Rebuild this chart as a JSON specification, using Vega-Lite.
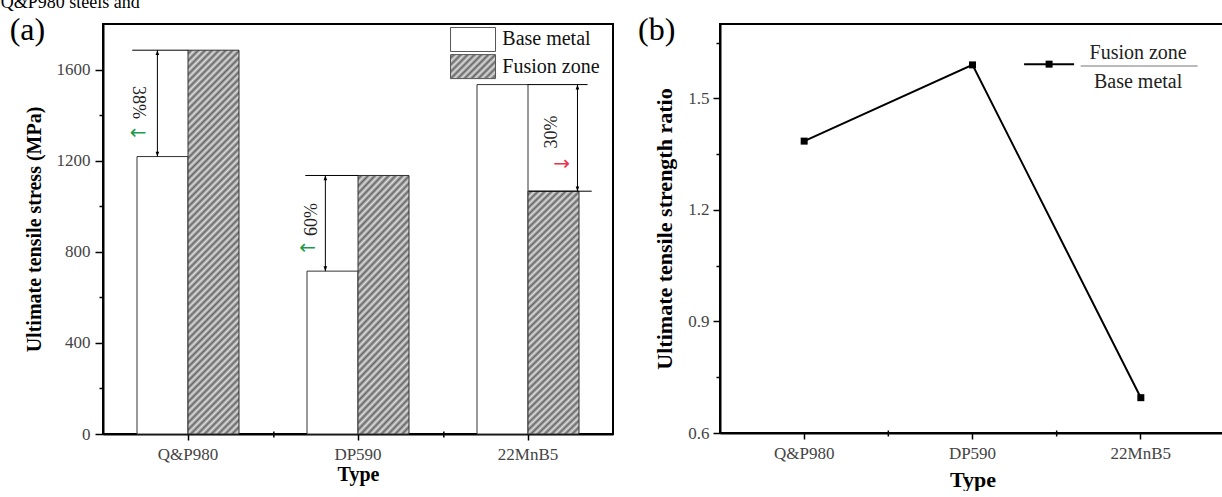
{
  "$schema": "https://vega.github.io/schema/vega-lite/v6.json",
  "background": "white",
  "padding": {"left": 0, "top": -7, "right": 0, "bottom": 0},
  "title": {"text": "Q&P980  steels and", "anchor": "start", "frame": "bounds", "dx": -8, "offset": -13, "baseline": "alphabetic", "fontSize": 18, "font": "Liberation Serif", "fontWeight": "normal", "color": "#000"},
  "datasets": {
    "bars": [
      {"Type": "Q&P980", "Condition": "Base metal", "UTS": 1218},
      {"Type": "Q&P980", "Condition": "Fusion zone", "UTS": 1685},
      {"Type": "DP590", "Condition": "Base metal", "UTS": 715},
      {"Type": "DP590", "Condition": "Fusion zone", "UTS": 1135},
      {"Type": "22MnB5", "Condition": "Base metal", "UTS": 1534},
      {"Type": "22MnB5", "Condition": "Fusion zone", "UTS": 1066}
    ],
    "ann": [
      {"Type": "Q&P980", "top": 1685, "bottom": 1218, "label": "38%", "labelAt": 1455, "arrowAt": 1323},
      {"Type": "DP590", "top": 1135, "bottom": 715, "label": "60%", "labelAt": 942, "arrowAt": 818},
      {"Type": "22MnB5", "top": 1534, "bottom": 1066, "label": "30%", "labelAt": 1326, "arrowAt": 1187}
    ],
    "ratio": [
      {"Type": "Q&P980", "Ratio": 1.385},
      {"Type": "DP590", "Ratio": 1.59},
      {"Type": "22MnB5", "Ratio": 0.695}
    ],
    "between": [
      {"Type": "DP590"},
      {"Type": "22MnB5"}
    ]
  },
  "spacing": 23,
  "hconcat": [
    {
      "width": 510,
      "height": 410,
      "layer": [
        {
          "data": {"name": "bars"},
          "mark": {"type": "bar", "stroke": "#333", "strokeWidth": 1},
          "encoding": {
            "x": {"field": "Type", "type": "nominal", "title": "Type",
                  "scale": {"type": "band", "domain": ["Q&P980", "DP590", "22MnB5"], "paddingInner": 0.4, "paddingOuter": 0.2},
                  "axis": {"labelAngle": 0, "tickSize": 6, "labelPadding": 6, "titlePadding": 2}},
            "xOffset": {"field": "Condition", "type": "nominal", "scale": {"domain": ["Base metal", "Fusion zone"]}},
            "y": {"field": "UTS", "type": "quantitative", "title": "Ultimate tensile stress (MPa)",
                  "scale": {"domain": [0, 1800], "nice": false},
                  "axis": {"values": [0, 200, 400, 600, 800, 1000, 1200, 1400, 1600],
                           "labelExpr": "datum.value % 400 === 0 ? format(datum.value, 'd') : ''",
                           "tickSize": {"condition": {"test": "datum.value % 400 !== 0", "value": 4}, "value": 8},
                           "labelPadding": 5, "titlePadding": 12}},
            "fill": {"field": "Condition", "type": "nominal", "legend": null,
                     "scale": {"domain": ["Base metal", "Fusion zone"], "range": ["#ffffff", "#a6a6a6"]},
                     "condition": [
                       {"test": "datum.Condition === 'Fusion zone' && datum.Type === 'Q&P980'",
                        "value": {"gradient": "linear", "x1": 0, "y1": 0, "x2": 0.1495, "y2": 1.1141, "stops": [
{"offset":0,"color":"#ddd"},{"offset":0.008,"color":"#666"},{"offset":0.016,"color":"#ddd"},{"offset":0.024,"color":"#666"},{"offset":0.032,"color":"#ddd"},{"offset":0.04,"color":"#666"},{"offset":0.048,"color":"#ddd"},{"offset":0.056,"color":"#666"},{"offset":0.064,"color":"#ddd"},{"offset":0.072,"color":"#666"},
{"offset":0.08,"color":"#ddd"},{"offset":0.088,"color":"#666"},{"offset":0.096,"color":"#ddd"},{"offset":0.104,"color":"#666"},{"offset":0.112,"color":"#ddd"},{"offset":0.12,"color":"#666"},{"offset":0.128,"color":"#ddd"},{"offset":0.136,"color":"#666"},{"offset":0.144,"color":"#ddd"},{"offset":0.152,"color":"#666"},
{"offset":0.16,"color":"#ddd"},{"offset":0.168,"color":"#666"},{"offset":0.176,"color":"#ddd"},{"offset":0.184,"color":"#666"},{"offset":0.192,"color":"#ddd"},{"offset":0.2,"color":"#666"},{"offset":0.208,"color":"#ddd"},{"offset":0.216,"color":"#666"},{"offset":0.224,"color":"#ddd"},{"offset":0.232,"color":"#666"},
{"offset":0.24,"color":"#ddd"},{"offset":0.248,"color":"#666"},{"offset":0.256,"color":"#ddd"},{"offset":0.264,"color":"#666"},{"offset":0.272,"color":"#ddd"},{"offset":0.28,"color":"#666"},{"offset":0.288,"color":"#ddd"},{"offset":0.296,"color":"#666"},{"offset":0.304,"color":"#ddd"},{"offset":0.312,"color":"#666"},
{"offset":0.32,"color":"#ddd"},{"offset":0.328,"color":"#666"},{"offset":0.336,"color":"#ddd"},{"offset":0.344,"color":"#666"},{"offset":0.352,"color":"#ddd"},{"offset":0.36,"color":"#666"},{"offset":0.368,"color":"#ddd"},{"offset":0.376,"color":"#666"},{"offset":0.384,"color":"#ddd"},{"offset":0.392,"color":"#666"},
{"offset":0.4,"color":"#ddd"},{"offset":0.408,"color":"#666"},{"offset":0.416,"color":"#ddd"},{"offset":0.424,"color":"#666"},{"offset":0.432,"color":"#ddd"},{"offset":0.44,"color":"#666"},{"offset":0.448,"color":"#ddd"},{"offset":0.456,"color":"#666"},{"offset":0.464,"color":"#ddd"},{"offset":0.472,"color":"#666"},
{"offset":0.48,"color":"#ddd"},{"offset":0.488,"color":"#666"},{"offset":0.496,"color":"#ddd"},{"offset":0.504,"color":"#666"},{"offset":0.512,"color":"#ddd"},{"offset":0.52,"color":"#666"},{"offset":0.528,"color":"#ddd"},{"offset":0.536,"color":"#666"},{"offset":0.544,"color":"#ddd"},{"offset":0.552,"color":"#666"},
{"offset":0.56,"color":"#ddd"},{"offset":0.568,"color":"#666"},{"offset":0.576,"color":"#ddd"},{"offset":0.584,"color":"#666"},{"offset":0.592,"color":"#ddd"},{"offset":0.6,"color":"#666"},{"offset":0.608,"color":"#ddd"},{"offset":0.616,"color":"#666"},{"offset":0.624,"color":"#ddd"},{"offset":0.632,"color":"#666"},
{"offset":0.64,"color":"#ddd"},{"offset":0.648,"color":"#666"},{"offset":0.656,"color":"#ddd"},{"offset":0.664,"color":"#666"},{"offset":0.672,"color":"#ddd"},{"offset":0.68,"color":"#666"},{"offset":0.688,"color":"#ddd"},{"offset":0.696,"color":"#666"},{"offset":0.704,"color":"#ddd"},{"offset":0.712,"color":"#666"},
{"offset":0.72,"color":"#ddd"},{"offset":0.728,"color":"#666"},{"offset":0.736,"color":"#ddd"},{"offset":0.744,"color":"#666"},{"offset":0.752,"color":"#ddd"},{"offset":0.76,"color":"#666"},{"offset":0.768,"color":"#ddd"},{"offset":0.776,"color":"#666"},{"offset":0.784,"color":"#ddd"},{"offset":0.792,"color":"#666"},
{"offset":0.8,"color":"#ddd"},{"offset":0.808,"color":"#666"},{"offset":0.816,"color":"#ddd"},{"offset":0.824,"color":"#666"},{"offset":0.832,"color":"#ddd"},{"offset":0.84,"color":"#666"},{"offset":0.848,"color":"#ddd"},{"offset":0.856,"color":"#666"},{"offset":0.864,"color":"#ddd"},{"offset":0.872,"color":"#666"},
{"offset":0.88,"color":"#ddd"},{"offset":0.888,"color":"#666"},{"offset":0.896,"color":"#ddd"},{"offset":0.904,"color":"#666"},{"offset":0.912,"color":"#ddd"},{"offset":0.92,"color":"#666"},{"offset":0.928,"color":"#ddd"},{"offset":0.936,"color":"#666"},{"offset":0.944,"color":"#ddd"},{"offset":0.952,"color":"#666"},
{"offset":0.96,"color":"#ddd"},{"offset":0.968,"color":"#666"},{"offset":0.976,"color":"#ddd"},{"offset":0.984,"color":"#666"},{"offset":0.992,"color":"#ddd"},{"offset":1,"color":"#666"}
                        ]}},
                       {"test": "datum.Condition === 'Fusion zone'",
                        "value": {"gradient": "linear", "x1": 0, "y1": 0, "x2": 0.2733, "y2": 1.3295, "stops": [
{"offset":0,"color":"#ddd"},{"offset":0.01,"color":"#666"},{"offset":0.02,"color":"#ddd"},{"offset":0.03,"color":"#666"},{"offset":0.04,"color":"#ddd"},{"offset":0.05,"color":"#666"},{"offset":0.06,"color":"#ddd"},{"offset":0.07,"color":"#666"},{"offset":0.08,"color":"#ddd"},{"offset":0.09,"color":"#666"},
{"offset":0.1,"color":"#ddd"},{"offset":0.11,"color":"#666"},{"offset":0.12,"color":"#ddd"},{"offset":0.13,"color":"#666"},{"offset":0.14,"color":"#ddd"},{"offset":0.15,"color":"#666"},{"offset":0.16,"color":"#ddd"},{"offset":0.17,"color":"#666"},{"offset":0.18,"color":"#ddd"},{"offset":0.19,"color":"#666"},
{"offset":0.2,"color":"#ddd"},{"offset":0.21,"color":"#666"},{"offset":0.22,"color":"#ddd"},{"offset":0.23,"color":"#666"},{"offset":0.24,"color":"#ddd"},{"offset":0.25,"color":"#666"},{"offset":0.26,"color":"#ddd"},{"offset":0.27,"color":"#666"},{"offset":0.28,"color":"#ddd"},{"offset":0.29,"color":"#666"},
{"offset":0.3,"color":"#ddd"},{"offset":0.31,"color":"#666"},{"offset":0.32,"color":"#ddd"},{"offset":0.33,"color":"#666"},{"offset":0.34,"color":"#ddd"},{"offset":0.35,"color":"#666"},{"offset":0.36,"color":"#ddd"},{"offset":0.37,"color":"#666"},{"offset":0.38,"color":"#ddd"},{"offset":0.39,"color":"#666"},
{"offset":0.4,"color":"#ddd"},{"offset":0.41,"color":"#666"},{"offset":0.42,"color":"#ddd"},{"offset":0.43,"color":"#666"},{"offset":0.44,"color":"#ddd"},{"offset":0.45,"color":"#666"},{"offset":0.46,"color":"#ddd"},{"offset":0.47,"color":"#666"},{"offset":0.48,"color":"#ddd"},{"offset":0.49,"color":"#666"},
{"offset":0.5,"color":"#ddd"},{"offset":0.51,"color":"#666"},{"offset":0.52,"color":"#ddd"},{"offset":0.53,"color":"#666"},{"offset":0.54,"color":"#ddd"},{"offset":0.55,"color":"#666"},{"offset":0.56,"color":"#ddd"},{"offset":0.57,"color":"#666"},{"offset":0.58,"color":"#ddd"},{"offset":0.59,"color":"#666"},
{"offset":0.6,"color":"#ddd"},{"offset":0.61,"color":"#666"},{"offset":0.62,"color":"#ddd"},{"offset":0.63,"color":"#666"},{"offset":0.64,"color":"#ddd"},{"offset":0.65,"color":"#666"},{"offset":0.66,"color":"#ddd"},{"offset":0.67,"color":"#666"},{"offset":0.68,"color":"#ddd"},{"offset":0.69,"color":"#666"},
{"offset":0.7,"color":"#ddd"},{"offset":0.71,"color":"#666"},{"offset":0.72,"color":"#ddd"},{"offset":0.73,"color":"#666"},{"offset":0.74,"color":"#ddd"},{"offset":0.75,"color":"#666"},{"offset":0.76,"color":"#ddd"},{"offset":0.77,"color":"#666"},{"offset":0.78,"color":"#ddd"},{"offset":0.79,"color":"#666"},
{"offset":0.8,"color":"#ddd"},{"offset":0.81,"color":"#666"},{"offset":0.82,"color":"#ddd"},{"offset":0.83,"color":"#666"},{"offset":0.84,"color":"#ddd"},{"offset":0.85,"color":"#666"},{"offset":0.86,"color":"#ddd"},{"offset":0.87,"color":"#666"},{"offset":0.88,"color":"#ddd"},{"offset":0.89,"color":"#666"},
{"offset":0.9,"color":"#ddd"},{"offset":0.91,"color":"#666"},{"offset":0.92,"color":"#ddd"},{"offset":0.93,"color":"#666"},{"offset":0.94,"color":"#ddd"},{"offset":0.95,"color":"#666"},{"offset":0.96,"color":"#ddd"},{"offset":0.97,"color":"#666"},{"offset":0.98,"color":"#ddd"},{"offset":0.99,"color":"#666"},
{"offset":1,"color":"#ddd"}
                        ]}}
                     ]}
          }
        },
        {
          "data": {"values": [{"Condition": "Base metal"}]},
          "mark": {"type": "point", "shape": "M-1.875,-1H1.875V1H-1.875Z", "size": 576, "filled": true, "fill": "#ffffff", "stroke": "#555", "strokeWidth": 1, "opacity": 1},
          "encoding": {
            "x": {"datum": "22MnB5", "type": "nominal", "bandPosition": -0.039, "title": "Type", "scale": {"type": "band", "domain": ["Q&P980", "DP590", "22MnB5"], "paddingInner": 0.4, "paddingOuter": 0.2}},
            "y": {"datum": 1732, "type": "quantitative", "title": "Ultimate tensile stress (MPa)", "scale": {"domain": [0, 1800], "nice": false}}
          }
        },
        {
          "data": {"values": [{"Condition": "Fusion zone"}]},
          "mark": {"type": "point", "shape": "M-1.875,-1H1.875V1H-1.875Z", "size": 576, "filled": true, "stroke": "#555", "strokeWidth": 1, "opacity": 1,
                   "fill": {"gradient": "linear", "x1": 0, "y1": 0, "x2": 1.1938, "y2": 0.6367, "stops": [
{"offset":0,"color":"#ddd"},{"offset":0.05,"color":"#666"},{"offset":0.1,"color":"#ddd"},{"offset":0.15,"color":"#666"},{"offset":0.2,"color":"#ddd"},{"offset":0.25,"color":"#666"},{"offset":0.3,"color":"#ddd"},{"offset":0.35,"color":"#666"},{"offset":0.4,"color":"#ddd"},{"offset":0.45,"color":"#666"},
{"offset":0.5,"color":"#ddd"},{"offset":0.55,"color":"#666"},{"offset":0.6,"color":"#ddd"},{"offset":0.65,"color":"#666"},{"offset":0.7,"color":"#ddd"},{"offset":0.75,"color":"#666"},{"offset":0.8,"color":"#ddd"},{"offset":0.85,"color":"#666"},{"offset":0.9,"color":"#ddd"},{"offset":0.95,"color":"#666"},
{"offset":1,"color":"#ddd"}
                   ]}},
          "encoding": {
            "x": {"datum": "22MnB5", "type": "nominal", "bandPosition": -0.039, "title": "Type", "scale": {"type": "band", "domain": ["Q&P980", "DP590", "22MnB5"], "paddingInner": 0.4, "paddingOuter": 0.2}},
            "y": {"datum": 1613, "type": "quantitative", "title": "Ultimate tensile stress (MPa)", "scale": {"domain": [0, 1800], "nice": false}}
          }
        },
        {
          "data": {"values": [{"Condition": "Base metal"}]},
          "mark": {"type": "text", "align": "left", "baseline": "middle", "fontSize": 20, "font": "Liberation Serif", "color": "#111"},
          "encoding": {
            "x": {"datum": "22MnB5", "type": "nominal", "bandPosition": 0.248, "title": "Type", "scale": {"type": "band", "domain": ["Q&P980", "DP590", "22MnB5"], "paddingInner": 0.4, "paddingOuter": 0.2}},
            "y": {"datum": 1732, "type": "quantitative", "title": "Ultimate tensile stress (MPa)", "scale": {"domain": [0, 1800], "nice": false}},
            "text": {"field": "Condition"}
          }
        },
        {
          "data": {"values": [{"Condition": "Fusion zone"}]},
          "mark": {"type": "text", "align": "left", "baseline": "middle", "fontSize": 20, "font": "Liberation Serif", "color": "#111"},
          "encoding": {
            "x": {"datum": "22MnB5", "type": "nominal", "bandPosition": 0.248, "title": "Type", "scale": {"type": "band", "domain": ["Q&P980", "DP590", "22MnB5"], "paddingInner": 0.4, "paddingOuter": 0.2}},
            "y": {"datum": 1613, "type": "quantitative", "title": "Ultimate tensile stress (MPa)", "scale": {"domain": [0, 1800], "nice": false}},
            "text": {"field": "Condition"}
          }
        },
        {
          "data": {"name": "between"},
          "mark": {"type": "point", "shape": "M0,-1V1.4", "filled": false, "color": "#000", "strokeWidth": 1.5, "size": 25, "opacity": 1},
          "encoding": {
            "x": {"field": "Type", "type": "nominal", "bandPosition": -0.325, "title": "Type", "scale": {"type": "band", "domain": ["Q&P980", "DP590", "22MnB5"], "paddingInner": 0.4, "paddingOuter": 0.2}},
            "y": {"datum": 0, "type": "quantitative", "title": "Ultimate tensile stress (MPa)", "scale": {"domain": [0, 1800], "nice": false}}
          }
        },
        {
          "data": {"values": [{"panel": "(a)"}]},
          "mark": {"type": "text", "align": "left", "baseline": "alphabetic", "fontSize": 32, "font": "Liberation Serif", "color": "#000"},
          "encoding": {
            "x": {"datum": "Q&P980", "type": "nominal", "bandPosition": -1.248, "title": "Type", "scale": {"type": "band", "domain": ["Q&P980", "DP590", "22MnB5"], "paddingInner": 0.4, "paddingOuter": 0.2}},
            "y": {"datum": 1730, "type": "quantitative", "title": "Ultimate tensile stress (MPa)", "scale": {"domain": [0, 1800], "nice": false}},
            "text": {"field": "panel"}
          }
        },
        {
          "data": {"name": "ann"},
          "transform": [{"filter": "datum.Type === 'Q&P980'"}],
          "layer": [
            {"mark": {"type": "point", "shape": "M-1,0H1", "filled": false, "color": "#000", "strokeWidth": 1, "size": 3136, "opacity": 1},
             "encoding": {"x": {"field": "Type", "type": "nominal", "bandPosition": 0.228, "title": "Type", "scale": {"type": "band", "domain": ["Q&P980", "DP590", "22MnB5"], "paddingInner": 0.4, "paddingOuter": 0.2}},
                          "y": {"field": "top", "type": "quantitative", "title": "Ultimate tensile stress (MPa)", "scale": {"domain": [0, 1800], "nice": false}}}},
            {"mark": {"type": "rule", "color": "#000", "strokeWidth": 1},
             "encoding": {"x": {"field": "Type", "type": "nominal", "bandPosition": 0.2, "title": "Type", "scale": {"type": "band", "domain": ["Q&P980", "DP590", "22MnB5"], "paddingInner": 0.4, "paddingOuter": 0.2}},
                          "y": {"field": "top", "type": "quantitative", "title": "Ultimate tensile stress (MPa)", "scale": {"domain": [0, 1800], "nice": false}},
                          "y2": {"field": "bottom"}}},
            {"mark": {"type": "point", "shape": "M0,0L-0.6,1.6L0.6,1.6Z", "filled": true, "color": "#000", "size": 36, "opacity": 1},
             "encoding": {"x": {"field": "Type", "type": "nominal", "bandPosition": 0.2, "title": "Type", "scale": {"type": "band", "domain": ["Q&P980", "DP590", "22MnB5"], "paddingInner": 0.4, "paddingOuter": 0.2}},
                          "y": {"field": "top", "type": "quantitative", "title": "Ultimate tensile stress (MPa)", "scale": {"domain": [0, 1800], "nice": false}}}},
            {"mark": {"type": "point", "shape": "M0,0L-0.6,-1.6L0.6,-1.6Z", "filled": true, "color": "#000", "size": 36, "opacity": 1},
             "encoding": {"x": {"field": "Type", "type": "nominal", "bandPosition": 0.2, "title": "Type", "scale": {"type": "band", "domain": ["Q&P980", "DP590", "22MnB5"], "paddingInner": 0.4, "paddingOuter": 0.2}},
                          "y": {"field": "bottom", "type": "quantitative", "title": "Ultimate tensile stress (MPa)", "scale": {"domain": [0, 1800], "nice": false}}}},
            {"mark": {"type": "text", "angle": 90, "fontSize": 18, "font": "Liberation Serif", "color": "#222"},
             "encoding": {"x": {"field": "Type", "type": "nominal", "bandPosition": 0.01, "title": "Type", "scale": {"type": "band", "domain": ["Q&P980", "DP590", "22MnB5"], "paddingInner": 0.4, "paddingOuter": 0.2}},
                          "y": {"field": "labelAt", "type": "quantitative", "title": "Ultimate tensile stress (MPa)", "scale": {"domain": [0, 1800], "nice": false}},
                          "text": {"field": "label"}}},
            {"mark": {"type": "text", "text": "←", "fontSize": 20, "font": "DejaVu Sans", "color": "#1f9a4a"},
             "encoding": {"x": {"field": "Type", "type": "nominal", "bandPosition": 0.01, "title": "Type", "scale": {"type": "band", "domain": ["Q&P980", "DP590", "22MnB5"], "paddingInner": 0.4, "paddingOuter": 0.2}},
                          "y": {"field": "arrowAt", "type": "quantitative", "title": "Ultimate tensile stress (MPa)", "scale": {"domain": [0, 1800], "nice": false}}}}
          ]
        },
        {
          "data": {"name": "ann"},
          "transform": [{"filter": "datum.Type === 'DP590'"}],
          "layer": [
            {"mark": {"type": "point", "shape": "M-1,0H1", "filled": false, "color": "#000", "strokeWidth": 1, "size": 2809, "opacity": 1},
             "encoding": {"x": {"field": "Type", "type": "nominal", "bandPosition": 0.243, "title": "Type", "scale": {"type": "band", "domain": ["Q&P980", "DP590", "22MnB5"], "paddingInner": 0.4, "paddingOuter": 0.2}},
                          "y": {"field": "top", "type": "quantitative", "title": "Ultimate tensile stress (MPa)", "scale": {"domain": [0, 1800], "nice": false}}}},
            {"mark": {"type": "rule", "color": "#000", "strokeWidth": 1},
             "encoding": {"x": {"field": "Type", "type": "nominal", "bandPosition": 0.18, "title": "Type", "scale": {"type": "band", "domain": ["Q&P980", "DP590", "22MnB5"], "paddingInner": 0.4, "paddingOuter": 0.2}},
                          "y": {"field": "top", "type": "quantitative", "title": "Ultimate tensile stress (MPa)", "scale": {"domain": [0, 1800], "nice": false}},
                          "y2": {"field": "bottom"}}},
            {"mark": {"type": "point", "shape": "M0,0L-0.6,1.6L0.6,1.6Z", "filled": true, "color": "#000", "size": 36, "opacity": 1},
             "encoding": {"x": {"field": "Type", "type": "nominal", "bandPosition": 0.18, "title": "Type", "scale": {"type": "band", "domain": ["Q&P980", "DP590", "22MnB5"], "paddingInner": 0.4, "paddingOuter": 0.2}},
                          "y": {"field": "top", "type": "quantitative", "title": "Ultimate tensile stress (MPa)", "scale": {"domain": [0, 1800], "nice": false}}}},
            {"mark": {"type": "point", "shape": "M0,0L-0.6,-1.6L0.6,-1.6Z", "filled": true, "color": "#000", "size": 36, "opacity": 1},
             "encoding": {"x": {"field": "Type", "type": "nominal", "bandPosition": 0.18, "title": "Type", "scale": {"type": "band", "domain": ["Q&P980", "DP590", "22MnB5"], "paddingInner": 0.4, "paddingOuter": 0.2}},
                          "y": {"field": "bottom", "type": "quantitative", "title": "Ultimate tensile stress (MPa)", "scale": {"domain": [0, 1800], "nice": false}}}},
            {"mark": {"type": "text", "angle": 270, "fontSize": 18, "font": "Liberation Serif", "color": "#222"},
             "encoding": {"x": {"field": "Type", "type": "nominal", "bandPosition": 0.05, "title": "Type", "scale": {"type": "band", "domain": ["Q&P980", "DP590", "22MnB5"], "paddingInner": 0.4, "paddingOuter": 0.2}},
                          "y": {"field": "labelAt", "type": "quantitative", "title": "Ultimate tensile stress (MPa)", "scale": {"domain": [0, 1800], "nice": false}},
                          "text": {"field": "label"}}},
            {"mark": {"type": "text", "text": "←", "fontSize": 20, "font": "DejaVu Sans", "color": "#1f9a4a"},
             "encoding": {"x": {"field": "Type", "type": "nominal", "bandPosition": 0.005, "title": "Type", "scale": {"type": "band", "domain": ["Q&P980", "DP590", "22MnB5"], "paddingInner": 0.4, "paddingOuter": 0.2}},
                          "y": {"field": "arrowAt", "type": "quantitative", "title": "Ultimate tensile stress (MPa)", "scale": {"domain": [0, 1800], "nice": false}}}}
          ]
        },
        {
          "data": {"name": "ann"},
          "transform": [{"filter": "datum.Type === '22MnB5'"}],
          "layer": [
            {"mark": {"type": "point", "shape": "M-1,0H1", "filled": false, "color": "#000", "strokeWidth": 1, "size": 3600, "opacity": 1},
             "encoding": {"x": {"field": "Type", "type": "nominal", "bandPosition": 0.79, "title": "Type", "scale": {"type": "band", "domain": ["Q&P980", "DP590", "22MnB5"], "paddingInner": 0.4, "paddingOuter": 0.2}},
                          "y": {"field": "top", "type": "quantitative", "title": "Ultimate tensile stress (MPa)", "scale": {"domain": [0, 1800], "nice": false}}}},
            {"mark": {"type": "point", "shape": "M-1,0H1", "filled": false, "color": "#000", "strokeWidth": 1, "size": 3969, "opacity": 1},
             "encoding": {"x": {"field": "Type", "type": "nominal", "bandPosition": 0.816, "title": "Type", "scale": {"type": "band", "domain": ["Q&P980", "DP590", "22MnB5"], "paddingInner": 0.4, "paddingOuter": 0.2}},
                          "y": {"field": "bottom", "type": "quantitative", "title": "Ultimate tensile stress (MPa)", "scale": {"domain": [0, 1800], "nice": false}}}},
            {"mark": {"type": "rule", "color": "#000", "strokeWidth": 1},
             "encoding": {"x": {"field": "Type", "type": "nominal", "bandPosition": 0.985, "title": "Type", "scale": {"type": "band", "domain": ["Q&P980", "DP590", "22MnB5"], "paddingInner": 0.4, "paddingOuter": 0.2}},
                          "y": {"field": "top", "type": "quantitative", "title": "Ultimate tensile stress (MPa)", "scale": {"domain": [0, 1800], "nice": false}},
                          "y2": {"field": "bottom"}}},
            {"mark": {"type": "point", "shape": "M0,0L-0.6,1.6L0.6,1.6Z", "filled": true, "color": "#000", "size": 36, "opacity": 1},
             "encoding": {"x": {"field": "Type", "type": "nominal", "bandPosition": 0.985, "title": "Type", "scale": {"type": "band", "domain": ["Q&P980", "DP590", "22MnB5"], "paddingInner": 0.4, "paddingOuter": 0.2}},
                          "y": {"field": "top", "type": "quantitative", "title": "Ultimate tensile stress (MPa)", "scale": {"domain": [0, 1800], "nice": false}}}},
            {"mark": {"type": "point", "shape": "M0,0L-0.6,-1.6L0.6,-1.6Z", "filled": true, "color": "#000", "size": 36, "opacity": 1},
             "encoding": {"x": {"field": "Type", "type": "nominal", "bandPosition": 0.985, "title": "Type", "scale": {"type": "band", "domain": ["Q&P980", "DP590", "22MnB5"], "paddingInner": 0.4, "paddingOuter": 0.2}},
                          "y": {"field": "bottom", "type": "quantitative", "title": "Ultimate tensile stress (MPa)", "scale": {"domain": [0, 1800], "nice": false}}}},
            {"mark": {"type": "text", "angle": 270, "fontSize": 18, "font": "Liberation Serif", "color": "#222"},
             "encoding": {"x": {"field": "Type", "type": "nominal", "bandPosition": 0.74, "title": "Type", "scale": {"type": "band", "domain": ["Q&P980", "DP590", "22MnB5"], "paddingInner": 0.4, "paddingOuter": 0.2}},
                          "y": {"field": "labelAt", "type": "quantitative", "title": "Ultimate tensile stress (MPa)", "scale": {"domain": [0, 1800], "nice": false}},
                          "text": {"field": "label"}}},
            {"mark": {"type": "text", "text": "→", "fontSize": 20, "font": "DejaVu Sans", "color": "#e8344e"},
             "encoding": {"x": {"field": "Type", "type": "nominal", "bandPosition": 0.83, "title": "Type", "scale": {"type": "band", "domain": ["Q&P980", "DP590", "22MnB5"], "paddingInner": 0.4, "paddingOuter": 0.2}},
                          "y": {"field": "arrowAt", "type": "quantitative", "title": "Ultimate tensile stress (MPa)", "scale": {"domain": [0, 1800], "nice": false}}}}
          ]
        }
      ]
    },
    {
      "width": 505,
      "height": 409,
      "layer": [
        {
          "data": {"name": "ratio"},
          "mark": {"type": "line", "color": "#000", "strokeWidth": 2},
          "encoding": {
            "x": {"field": "Type", "type": "nominal", "title": "Type",
                  "scale": {"type": "band", "domain": ["Q&P980", "DP590", "22MnB5"], "paddingInner": 0, "paddingOuter": 0},
                  "axis": {"labelAngle": 0, "tickSize": 6, "labelPadding": 6, "titlePadding": 8, "titleFontSize": 22}},
            "y": {"field": "Ratio", "type": "quantitative", "title": "Ultimate tensile strength ratio",
                  "scale": {"domain": [0.6, 1.7], "nice": false, "zero": false},
                  "axis": {"values": [0.6, 0.75, 0.9, 1.05, 1.2, 1.35, 1.5, 1.65],
                           "labelExpr": "indexof([0.6, 0.9, 1.2, 1.5], datum.value) >= 0 ? format(datum.value, '.1f') : ''",
                           "tickSize": {"condition": {"test": "indexof([0.6, 0.9, 1.2, 1.5], datum.value) < 0", "value": 4}, "value": 7},
                           "labelPadding": 4, "titlePadding": 11, "titleFontSize": 22}}
          }
        },
        {
          "data": {"name": "ratio"},
          "mark": {"type": "point", "shape": "square", "filled": true, "color": "#000", "size": 49, "opacity": 1},
          "encoding": {
            "x": {"field": "Type", "type": "nominal", "title": "Type", "scale": {"type": "band", "domain": ["Q&P980", "DP590", "22MnB5"], "paddingInner": 0, "paddingOuter": 0}},
            "y": {"field": "Ratio", "type": "quantitative", "title": "Ultimate tensile strength ratio", "scale": {"domain": [0.6, 1.7], "nice": false, "zero": false}}
          }
        },
        {
          "data": {"name": "between"},
          "mark": {"type": "point", "shape": "M0,-1V1.4", "filled": false, "color": "#000", "strokeWidth": 1.5, "size": 25, "opacity": 1},
          "encoding": {
            "x": {"field": "Type", "type": "nominal", "bandPosition": 0, "title": "Type", "scale": {"type": "band", "domain": ["Q&P980", "DP590", "22MnB5"], "paddingInner": 0, "paddingOuter": 0}},
            "y": {"datum": 0.6, "type": "quantitative", "title": "Ultimate tensile strength ratio", "scale": {"domain": [0.6, 1.7], "nice": false, "zero": false}}
          }
        },
        {
          "data": {"values": [{"panel": "(b)"}]},
          "mark": {"type": "text", "align": "left", "baseline": "alphabetic", "fontSize": 32, "font": "Liberation Serif", "color": "#000"},
          "encoding": {
            "x": {"datum": "Q&P980", "type": "nominal", "bandPosition": -0.487, "title": "Type", "scale": {"type": "band", "domain": ["Q&P980", "DP590", "22MnB5"], "paddingInner": 0, "paddingOuter": 0}},
            "y": {"datum": 1.657, "type": "quantitative", "title": "Ultimate tensile strength ratio", "scale": {"domain": [0.6, 1.7], "nice": false, "zero": false}},
            "text": {"field": "panel"}
          }
        },
        {
          "data": {"values": [{"series": "Fusion zone / Base metal"}]},
          "mark": {"type": "point", "shape": "M-1,0H1", "filled": false, "color": "#000", "strokeWidth": 2, "size": 2500, "opacity": 1},
          "encoding": {
            "x": {"datum": "DP590", "type": "nominal", "bandPosition": 0.955, "title": "Type", "scale": {"type": "band", "domain": ["Q&P980", "DP590", "22MnB5"], "paddingInner": 0, "paddingOuter": 0}},
            "y": {"datum": 1.592, "type": "quantitative", "title": "Ultimate tensile strength ratio", "scale": {"domain": [0.6, 1.7], "nice": false, "zero": false}}
          }
        },
        {
          "data": {"values": [{"series": "Fusion zone / Base metal"}]},
          "mark": {"type": "point", "shape": "square", "filled": true, "color": "#000", "size": 49, "opacity": 1},
          "encoding": {
            "x": {"datum": "DP590", "type": "nominal", "bandPosition": 0.955, "title": "Type", "scale": {"type": "band", "domain": ["Q&P980", "DP590", "22MnB5"], "paddingInner": 0, "paddingOuter": 0}},
            "y": {"datum": 1.592, "type": "quantitative", "title": "Ultimate tensile strength ratio", "scale": {"domain": [0.6, 1.7], "nice": false, "zero": false}}
          }
        },
        {
          "data": {"values": [{"label": "Fusion zone"}]},
          "mark": {"type": "text", "fontSize": 20, "font": "Liberation Serif", "color": "#222"},
          "encoding": {
            "x": {"datum": "22MnB5", "type": "nominal", "bandPosition": 0.484, "title": "Type", "scale": {"type": "band", "domain": ["Q&P980", "DP590", "22MnB5"], "paddingInner": 0, "paddingOuter": 0}},
            "y": {"datum": 1.622, "type": "quantitative", "title": "Ultimate tensile strength ratio", "scale": {"domain": [0.6, 1.7], "nice": false, "zero": false}},
            "text": {"field": "label"}
          }
        },
        {
          "data": {"values": [{"series": "Fusion zone / Base metal"}]},
          "mark": {"type": "point", "shape": "M-1,0H1", "filled": false, "color": "#777", "strokeWidth": 1, "size": 13689, "opacity": 1},
          "encoding": {
            "x": {"datum": "22MnB5", "type": "nominal", "bandPosition": 0.49, "title": "Type", "scale": {"type": "band", "domain": ["Q&P980", "DP590", "22MnB5"], "paddingInner": 0, "paddingOuter": 0}},
            "y": {"datum": 1.587, "type": "quantitative", "title": "Ultimate tensile strength ratio", "scale": {"domain": [0.6, 1.7], "nice": false, "zero": false}}
          }
        },
        {
          "data": {"values": [{"label": "Base metal"}]},
          "mark": {"type": "text", "fontSize": 20, "font": "Liberation Serif", "color": "#222"},
          "encoding": {
            "x": {"datum": "22MnB5", "type": "nominal", "bandPosition": 0.484, "title": "Type", "scale": {"type": "band", "domain": ["Q&P980", "DP590", "22MnB5"], "paddingInner": 0, "paddingOuter": 0}},
            "y": {"datum": 1.544, "type": "quantitative", "title": "Ultimate tensile strength ratio", "scale": {"domain": [0.6, 1.7], "nice": false, "zero": false}},
            "text": {"field": "label"}
          }
        }
      ]
    }
  ],
  "config": {
    "font": "Liberation Serif",
    "view": {"stroke": "#000", "strokeWidth": 2},
    "axis": {"domainColor": "#000", "domainWidth": 2, "tickColor": "#000", "tickWidth": 1.5,
             "labelFont": "Liberation Serif", "labelFontSize": 17, "labelColor": "#444",
             "titleFont": "Liberation Serif", "titleFontWeight": "bold", "titleFontSize": 20, "titleColor": "#000",
             "grid": false, "labelOverlap": false, "labelFlush": false}
  }
}
